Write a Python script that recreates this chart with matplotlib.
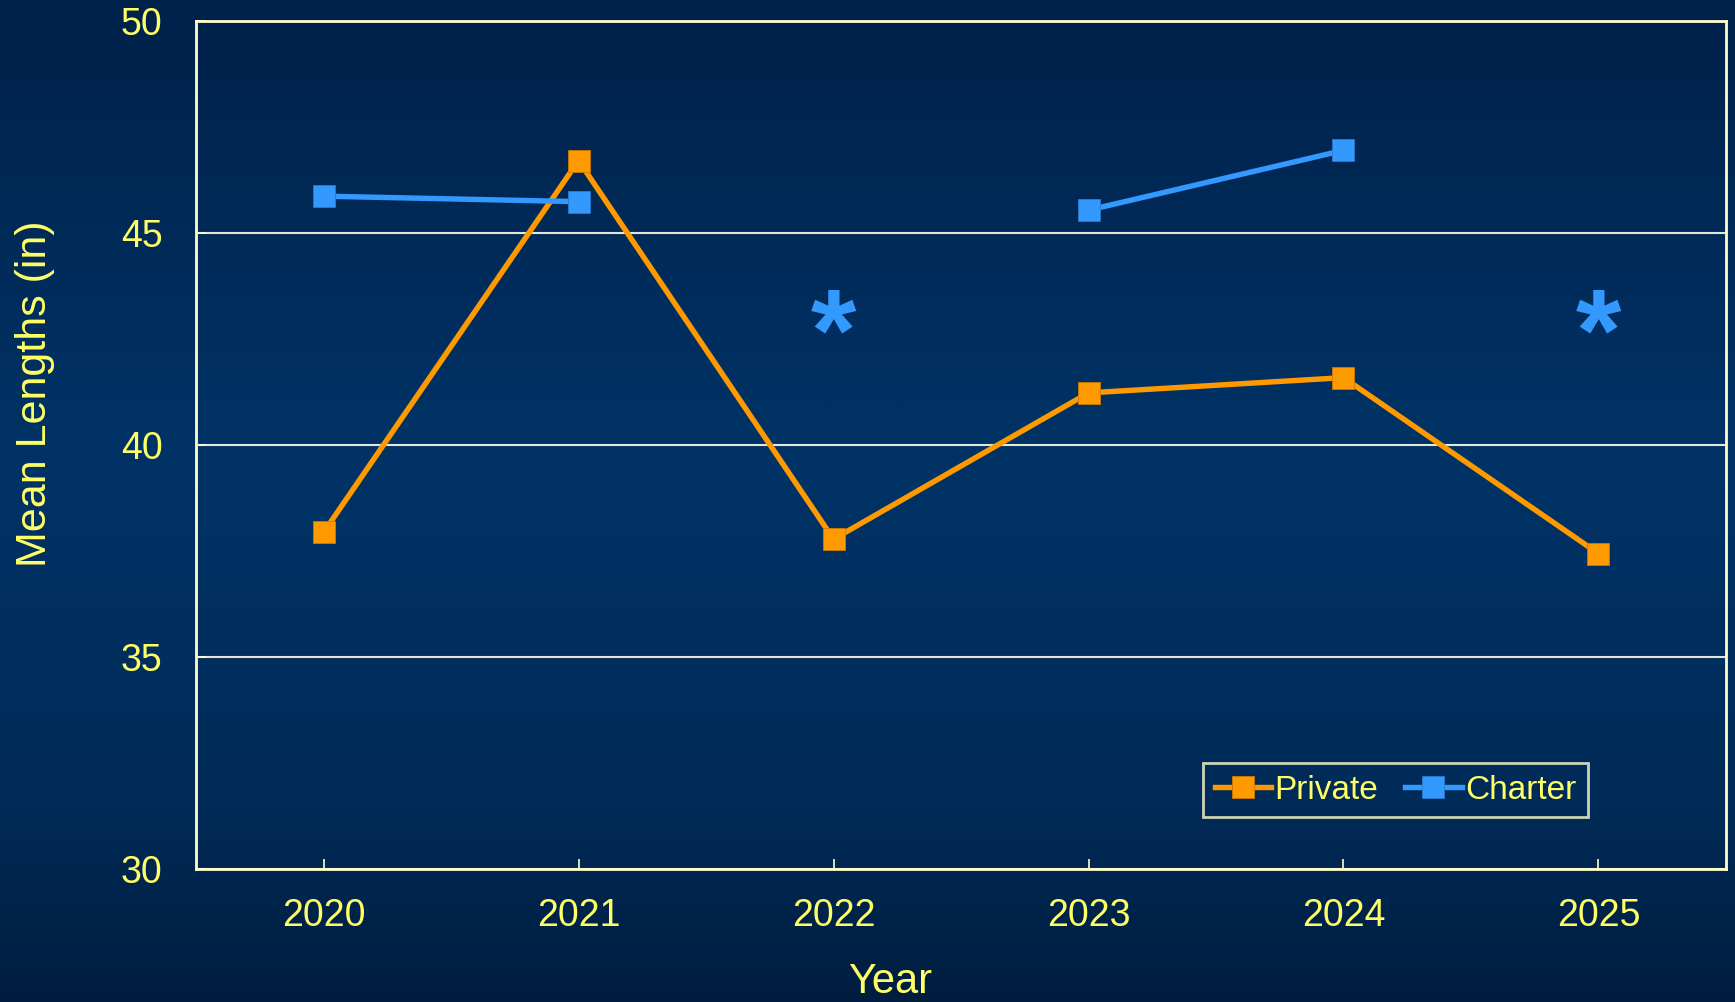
import numpy as np
import matplotlib
matplotlib.use("Agg")
import matplotlib.pyplot as plt
from matplotlib.colors import LinearSegmentedColormap
import matplotlib.transforms as mtransforms

years = ["2020", "2021", "2022", "2023", "2024", "2025"]
private = [37.94, 46.71, 37.78, 41.23, 41.59, 37.44]
charter = [45.87, 45.74, np.nan, 45.54, 46.95, np.nan]
missing_mark_y = 43.0
y_ticks = [30, 35, 40, 45, 50]

TXT = "#FFFF66"
SPINE = "#FFFFCC"
ORANGE = "#FF9900"
BLUE = "#3399FF"

plt.rcParams["font.family"] = ["Liberation Sans", "DejaVu Sans"]

fig = plt.figure(figsize=(17.35, 10.02), dpi=100)

# background gradient
bg = fig.add_axes([0, 0, 1, 1], zorder=-10)
cmap = LinearSegmentedColormap.from_list(
    "bg", [(0.0, "#00214A"), (0.45, "#003366"), (0.8, "#002B58"), (1.0, "#001D3F")])
grad = np.linspace(0, 1, 512).reshape(-1, 1)
bg.imshow(grad, aspect="auto", cmap=cmap, extent=[0, 1, 0, 1], origin="upper")
bg.axis("off")

ax = fig.add_axes([0.113, 0.1327, 0.8818, 0.8463])
ax.patch.set_alpha(0)

x = np.arange(len(years))
ax.plot(x, private, color=ORANGE, lw=3.9, marker="s", ms=16,
        mec="#CC7A00", mew=0.6, label="Private", zorder=3)
ch = np.array(charter, dtype=float)
ax.plot(x, ch, color=BLUE, lw=3.9, marker="s", ms=16,
        mec="#2A7ACC", mew=0.6, label="Charter", zorder=4)

for xi, v in zip(x, ch):
    if np.isnan(v):
        ax.text(xi, missing_mark_y, "*", color=BLUE, fontsize=84,
                fontweight="bold", ha="center", va="center", zorder=5,
                transform=ax.transData + mtransforms.ScaledTranslation(0, -0.22, fig.dpi_scale_trans))

ax.set_xlim(-0.5, len(years) - 0.5)
ax.set_ylim(30, 50)
ax.set_xticks(x)
ax.set_xticklabels(years)
ax.set_yticks(y_ticks)

ax.grid(axis="y", color="#E6E6D8", lw=1.5)
ax.set_axisbelow(True)
for s in ax.spines.values():
    s.set_color(SPINE)
    s.set_linewidth(2)

ax.tick_params(axis="both", direction="in", color=SPINE, length=7, width=1.2,
               labelcolor=TXT, labelsize=27)
ax.tick_params(axis="x", pad=21)
ax.tick_params(axis="y", pad=24)

ax.set_xlabel("Year", color=TXT, fontsize=30)
ax.set_ylabel("Mean Lengths (in)", color=TXT, fontsize=31)
ax.xaxis.set_label_coords(0.454, -0.11)
ax.yaxis.set_label_coords(-0.092, 0.56)

leg = ax.legend(loc="center", bbox_to_anchor=(0.784, 0.093), ncol=2,
                fontsize=24, frameon=True, fancybox=False, handlelength=1.7,
                handletextpad=0.1, columnspacing=0.8, borderpad=0.35,
                borderaxespad=0)
leg.get_frame().set_facecolor("none")
leg.get_frame().set_edgecolor(SPINE)
leg.get_frame().set_linewidth(2)
for t in leg.get_texts():
    t.set_color(TXT)

fig.savefig("out.png", dpi=100)
